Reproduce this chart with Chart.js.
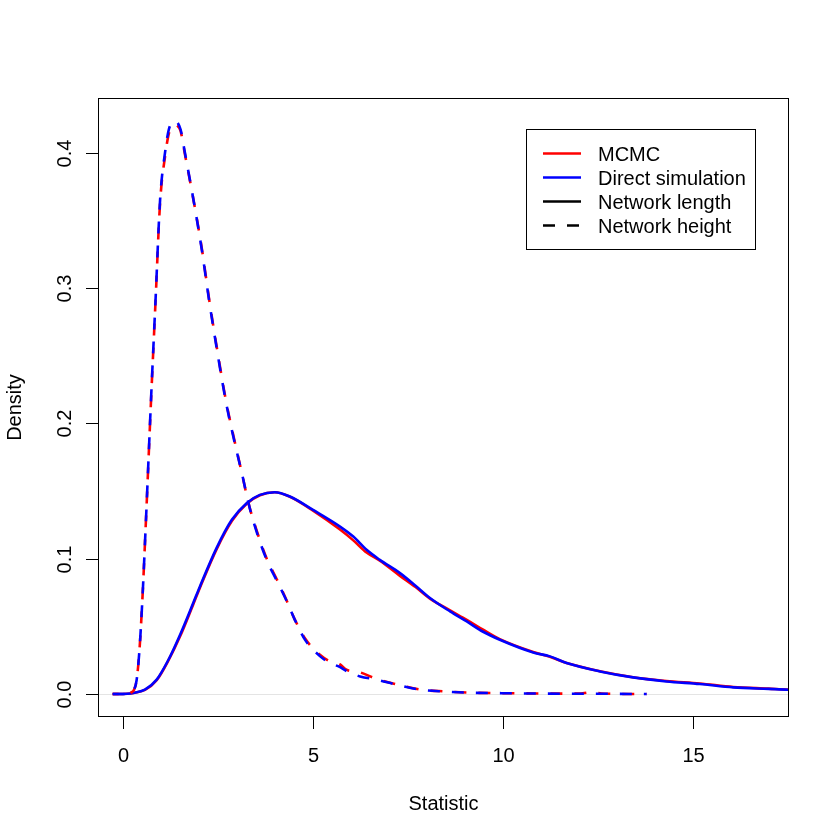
<!DOCTYPE html>
<html>
<head>
<meta charset="utf-8">
<script src="https://cdn.jsdelivr.net/npm/chart.js@4"></script>
<style>
  html, body { margin: 0; padding: 0; background: #ffffff; }
  #wrap { width: 840px; height: 840px; }
</style>
</head>
<body>
<div id="wrap"><canvas id="c" width="840" height="840"></canvas></div>
<script>
// ---------- data ----------
const xTicks = [0, 5, 10, 15];
const xTickLabels = ['0', '5', '10', '15'];
const yTicks = [0, 0.1, 0.2, 0.3, 0.4];
const yTickLabels = ['0.0', '0.1', '0.2', '0.3', '0.4'];

const legendLabels = ['MCMC', 'Direct simulation', 'Network length', 'Network height'];
const xTitle = 'Statistic';
const yTitle = 'Density';

// Network length (solid)
const lengthX = [-0.28, 0.1, 0.3, 0.57, 0.88, 1.19, 1.5, 1.84, 2.02, 2.46, 2.86, 3.25, 3.6, 3.99, 4.39, 5.0, 5.71, 6.06, 6.41, 6.76, 7.29, 7.7, 8.08, 8.61, 9.05, 9.48, 9.92, 10.8, 11.24, 11.68, 12.56, 13.43, 14.31, 15.19, 16.07, 17.0, 17.52, 18.2];
const lengthDirect = [0, 0.0002, 0.001, 0.0032, 0.0106, 0.0253, 0.044, 0.067, 0.0795, 0.108, 0.1287, 0.141, 0.1471, 0.1491, 0.1459, 0.136, 0.1237, 0.1163, 0.1065, 0.0991, 0.0893, 0.080, 0.0709, 0.061, 0.0536, 0.046, 0.0401, 0.0307, 0.0278, 0.0229, 0.0167, 0.0123, 0.0093, 0.0074, 0.0049, 0.0038, 0.0032, 0.0028];
const lengthMcmc   = [0, 0.0002, 0.001, 0.003, 0.0102, 0.0248, 0.0428, 0.066, 0.0785, 0.107, 0.1277, 0.1405, 0.1468, 0.149, 0.1457, 0.1355, 0.1215, 0.1135, 0.1045, 0.0985, 0.0873, 0.079, 0.0705, 0.0618, 0.0548, 0.0475, 0.0405, 0.031, 0.0275, 0.0229, 0.0168, 0.0124, 0.0096, 0.0078, 0.0052, 0.004, 0.0033, 0.0028];

// Network height (dashed)
const heightX = [-0.28, 0.1, 0.2, 0.28, 0.35, 0.42, 0.5, 0.6, 0.73, 0.85, 0.97, 1.11, 1.2, 1.3, 1.36, 1.42, 1.51, 1.61, 1.85, 2.07, 2.26, 2.47, 2.71, 2.90, 3.15, 3.29, 3.50, 3.78, 4.04, 4.29, 4.52, 4.79, 5.18, 5.45, 5.7, 5.88, 6.24, 6.68, 7.2, 7.82, 8.5, 9.06, 10, 11, 12, 12.3, 12.6, 13, 13.79];
const heightDirect = [0, 0, 0.001, 0.003, 0.01, 0.03, 0.068, 0.13, 0.217, 0.291, 0.365, 0.402, 0.417, 0.4225, 0.4237, 0.4225, 0.417, 0.402, 0.365, 0.328, 0.291, 0.254, 0.215, 0.190, 0.160, 0.142, 0.121, 0.099, 0.084, 0.0696, 0.0548, 0.040, 0.028, 0.023, 0.020, 0.017, 0.013, 0.0106, 0.0069, 0.0032, 0.0018, 0.001, 0.0006, 0.0003, 0.0002, 0.0002, 0.0002, 0.0001, 0];
const heightMcmc   = [0, 0, 0.001, 0.003, 0.01, 0.03, 0.068, 0.13, 0.216, 0.29, 0.363, 0.399, 0.414, 0.419, 0.4205, 0.420, 0.416, 0.401, 0.365, 0.329, 0.292, 0.255, 0.216, 0.191, 0.160, 0.142, 0.122, 0.100, 0.085, 0.070, 0.055, 0.041, 0.029, 0.024, 0.022, 0.018, 0.016, 0.011, 0.0072, 0.0033, 0.0019, 0.0011, 0.0006, 0.0004, 0.0003, 0.0012, 0.0004, 0.0001, 0];

function pts(xs, ys) { return xs.map((x, i) => ({ x: x, y: ys[i] })); }

const FONT = '20px "Liberation Sans", Arial, Helvetica, sans-serif';
const RED = '#ff0000';
const BLUE = '#0000ff';

// ---------- R-style frame, axes, labels, legend ----------
const rFrame = {
  id: 'rFrame',
  beforeDatasetsDraw(chart) {
    const ctx = chart.ctx;
    const ys = chart.scales.y;
    const a = chart.chartArea;
    const y0 = Math.round(ys.getPixelForValue(0)) + 0.5;
    ctx.save();
    ctx.strokeStyle = '#e4e4e4';
    ctx.lineWidth = 1;
    ctx.beginPath();
    ctx.moveTo(a.left, y0);
    ctx.lineTo(a.right, y0);
    ctx.stroke();
    ctx.restore();
  },
  afterDraw(chart) {
    const ctx = chart.ctx;
    const a = chart.chartArea;
    const xs = chart.scales.x;
    const ys = chart.scales.y;
    ctx.save();
    ctx.strokeStyle = '#000';
    ctx.fillStyle = '#000';
    ctx.lineWidth = 1;
    // box
    ctx.strokeRect(Math.round(a.left) + 0.5, Math.round(a.top) + 0.5,
                   Math.round(a.right - a.left) - 1, Math.round(a.bottom - a.top) - 1);
    ctx.font = FONT;
    // x ticks
    const xb = Math.round(a.bottom);
    xTicks.forEach((v, i) => {
      const px = Math.round(xs.getPixelForValue(v)) + 0.5;
      ctx.beginPath();
      ctx.moveTo(px, xb);
      ctx.lineTo(px, xb + 12);
      ctx.stroke();
      ctx.textAlign = 'center';
      ctx.textBaseline = 'alphabetic';
      ctx.fillText(xTickLabels[i], px, 761.5);
    });
    // y ticks
    const yl = Math.round(a.left);
    yTicks.forEach((v, i) => {
      const py = Math.round(ys.getPixelForValue(v)) + 0.5;
      ctx.beginPath();
      ctx.moveTo(yl, py);
      ctx.lineTo(yl - 12, py);
      ctx.stroke();
      ctx.save();
      ctx.translate(70.5, py);
      ctx.rotate(-Math.PI / 2);
      ctx.textAlign = 'center';
      ctx.textBaseline = 'alphabetic';
      ctx.fillText(yTickLabels[i], 0, 0);
      ctx.restore();
    });
    // axis titles
    ctx.textAlign = 'center';
    ctx.textBaseline = 'alphabetic';
    ctx.fillText(xTitle, (a.left + a.right) / 2, 810);
    ctx.save();
    ctx.translate(21, (a.top + a.bottom) / 2);
    ctx.rotate(-Math.PI / 2);
    ctx.fillText(yTitle, 0, 0);
    ctx.restore();

    // legend
    ctx.lineWidth = 1;
    ctx.strokeRect(526.5, 129.5, 229, 120);
    const rows = [
      { color: RED, dash: [] },
      { color: BLUE, dash: [] },
      { color: '#000', dash: [] },
      { color: '#000', dash: [12, 12] }
    ];
    const baselines = [161, 185, 209, 233];
    rows.forEach((r, i) => {
      const ly = baselines[i] - 7.5;
      ctx.save();
      ctx.strokeStyle = r.color;
      ctx.lineWidth = 2.5;
      ctx.setLineDash(r.dash);
      ctx.beginPath();
      ctx.moveTo(543, ly);
      ctx.lineTo(581, ly);
      ctx.stroke();
      ctx.restore();
      ctx.textAlign = 'left';
      ctx.textBaseline = 'alphabetic';
      ctx.fillStyle = '#000';
      ctx.fillText(legendLabels[i], 598, baselines[i]);
    });
    ctx.restore();
  }
};

const common = {
  pointRadius: 0,
  pointHoverRadius: 0,
  borderWidth: 2.6,
  fill: false,
  cubicInterpolationMode: 'monotone',
  borderCapStyle: 'butt',
  borderJoinStyle: 'round'
};

new Chart(document.getElementById('c'), {
  type: 'line',
  data: {
    datasets: [
      Object.assign({ label: 'Direct simulation – Network height', data: pts(heightX, heightDirect), borderColor: BLUE, borderDash: [12, 12], order: 0 }, common),
      Object.assign({ label: 'MCMC – Network height', data: pts(heightX, heightMcmc), borderColor: RED, borderDash: [12, 12], borderDashOffset: 6, order: 1 }, common),
      Object.assign({ label: 'Direct simulation – Network length', data: pts(lengthX, lengthDirect), borderColor: BLUE, order: 2 }, common),
      Object.assign({ label: 'MCMC – Network length', data: pts(lengthX, lengthMcmc), borderColor: RED, order: 3 }, common)
    ]
  },
  options: {
    responsive: false,
    animation: false,
    devicePixelRatio: 1,
    parsing: true,
    layout: { padding: { left: 98, top: 98, right: 51, bottom: 123 } },
    plugins: { legend: { display: false }, tooltip: { enabled: false }, title: { display: false } },
    scales: {
      x: { type: 'linear', min: -0.666, max: 17.54, display: false },
      y: { type: 'linear', min: -0.01698, max: 0.4403, display: false }
    }
  },
  plugins: [rFrame]
});
</script>
</body>
</html>
